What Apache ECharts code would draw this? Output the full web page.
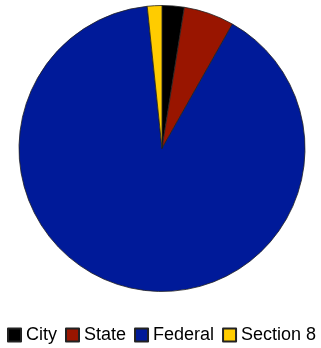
<!DOCTYPE html>
<html>
<head>
<meta charset="utf-8">
<script src="https://cdn.jsdelivr.net/npm/echarts@6/dist/echarts.min.js"></script>
<style>html,body{margin:0;padding:0;background:#fff}#c{width:321px;height:348px}</style>
</head>
<body>
<div id="c"></div>
<script>
const categories = ["City", "State", "Federal", "Section 8"];
const values = [2.5, 5.7, 90.15, 1.65];
const colors = ["#000000", "#991500", "#001a99", "#ffcc00"];

const chart = echarts.init(document.getElementById('c'), null, {renderer: 'canvas'});
chart.setOption({
  animation: false,
  legend: {
    data: categories,
    left: 7,
    top: 326,
    width: 314,
    padding: 0,
    itemWidth: 13,
    itemHeight: 13,
    itemGap: 8,
    icon: 'rect',
    textStyle: {fontFamily: 'Liberation Sans, Arial, sans-serif', fontSize: 18, color: '#000'}
  },
  series: [{
    type: 'pie',
    center: [162, 148.5],
    radius: 143,
    startAngle: 90,
    clockwise: true,
    label: {show: false},
    labelLine: {show: false},
    emphasis: {disabled: true},
    itemStyle: {borderColor: '#222', borderWidth: 0.8},
    data: categories.map((n, i) => ({name: n, value: values[i], itemStyle: {color: colors[i]}}))
  }]
});
</script>
</body>
</html>
